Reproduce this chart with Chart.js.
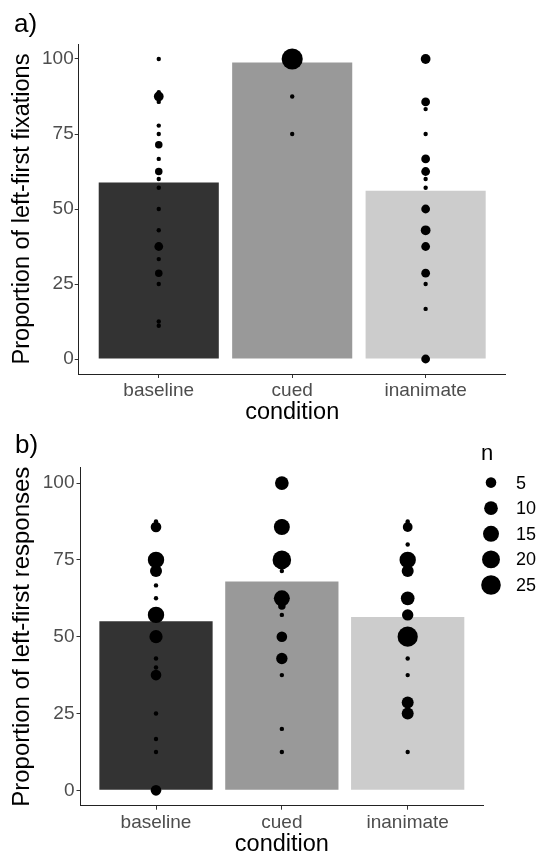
<!DOCTYPE html>
<html>
<head>
<meta charset="utf-8">
<script src="https://cdn.jsdelivr.net/npm/chart.js@4"></script>
<style>
  body { margin: 0; background: #fff; }
  canvas { display: block; }
</style>
</head>
<body>
<canvas id="fixChart" width="541" height="430"></canvas>
<canvas id="respChart" width="541" height="430"></canvas>
<script>
const categories = ['baseline', 'cued', 'inanimate']
const barColors = ['#333333', '#999999', '#cccccc']
const yTicks = [0, 25, 50, 75, 100]

// a) left-first fixations: bar = mean, dots = participant proportions (n = count)
const fixMeans = [58.8, 98.8, 56.1]
const fixBaselineProp = [100, 88.9, 87.5, 85.7, 77.8, 75, 71.4, 66.7, 62.5, 60, 57.1, 50, 42.9, 37.5, 33.3, 28.6, 25, 12.5, 11.1]
const fixBaselineN = [1, 1, 4, 1, 1, 1, 2, 1, 2, 1, 1, 1, 1, 3, 1, 2, 1, 1, 1]
const fixCuedProp = [100, 87.5, 75]
const fixCuedN = [30, 1, 1]
const fixInanimateProp = [100, 85.7, 83.3, 75, 66.7, 62.5, 60, 57.1, 50, 42.9, 37.5, 28.6, 25, 16.7, 0]
const fixInanimateN = [4, 3, 1, 1, 3, 3, 1, 1, 3, 4, 3, 3, 1, 1, 3]

// b) left-first responses
const respMeans = [55.0, 68.0, 56.4]
const respBaselineProp = [87.5, 85.7, 75, 71.4, 66.7, 62.5, 57.1, 50, 42.9, 40, 37.5, 25, 16.7, 12.5, 0]
const respBaselineN = [1, 5, 16, 7, 1, 1, 16, 9, 1, 1, 5, 1, 1, 1, 5]
const respCuedProp = [100, 87.5, 85.7, 75, 71.4, 62.5, 60, 57.1, 50, 42.9, 37.5, 20, 12.5]
const respCuedN = [10, 1, 15, 22, 1, 15, 2, 1, 5, 6, 1, 1, 1]
const respInanimateProp = [87.5, 85.7, 80, 75, 71.4, 62.5, 57.1, 50, 42.9, 37.5, 28.6, 25, 12.5]
const respInanimateN = [1, 4, 1, 16, 7, 10, 6, 27, 1, 1, 7, 7, 1]

const legendN = [5, 10, 15, 20, 25]

const FONT = "'Liberation Sans', Arial, sans-serif"

function dotRadius(n) {
  return 2.2 + 1.55 * Math.sqrt(n - 1)
}

function dots(props, ns, idx) {
  return props.map((p, i) => ({ x: idx, y: p, r: dotRadius(ns[i]) }))
}

// panel tag + size legend
const extras = {
  id: 'extras',
  afterDraw(chart, args, opts) {
    const ctx = chart.ctx
    ctx.save()
    ctx.fillStyle = '#000'
    ctx.textBaseline = 'alphabetic'
    ctx.font = '26px ' + FONT
    ctx.fillText(opts.tag, opts.tagX, opts.tagY)
    if (opts.legend) {
      ctx.font = '22px ' + FONT
      ctx.fillText('n', 481, 30)
      ctx.font = '18px ' + FONT
      ctx.textBaseline = 'middle'
      legendN.forEach((n, i) => {
        const y = 52.6 + i * 25.6
        ctx.beginPath()
        ctx.arc(491, y, dotRadius(n), 0, Math.PI * 2)
        ctx.fill()
        ctx.fillText(String(n), 516, y + 1)
      })
    }
    ctx.restore()
  },
}

function makePanel(id, means, dotData, yTitle, g) {
  return new Chart(document.getElementById(id), {
    type: 'bar',
    data: {
      datasets: [
        {
          type: 'bubble',
          data: dotData,
          backgroundColor: '#000',
          borderWidth: 0,
          clip: false,
          order: 1,
        },
        {
          data: means.map((m, i) => ({ x: i, y: m })),
          backgroundColor: barColors,
          borderWidth: 0,
          categoryPercentage: 1,
          barPercentage: 0.9,
          order: 2,
        },
      ],
    },
    options: {
      responsive: false,
      animation: false,
      events: [],
      layout: { padding: { top: g.top, right: g.right, bottom: 0, left: 0 } },
      plugins: {
        legend: { display: false },
        tooltip: { enabled: false },
        extras: g.extras,
      },
      scales: {
        x: {
          type: 'linear',
          min: -0.6,
          max: 2.6,
          offset: false,
          afterBuildTicks: (s) => {
            s.ticks = categories.map((c, i) => ({ value: i }))
          },
          afterFit: (s) => {
            s.height = g.xHeight
          },
          ticks: {
            callback: (v) => categories[v],
            color: '#4d4d4d',
            font: { family: FONT, size: 19 },
            padding: 1.3,
            autoSkip: false,
            maxRotation: 0,
          },
          grid: { drawOnChartArea: false, offset: false, tickLength: 4, tickColor: '#333' },
          border: { color: '#222', width: 1 },
          title: {
            display: true,
            text: 'condition',
            color: '#000',
            font: { family: FONT, size: 23.5 },
            padding: { top: 0, bottom: g.xTitlePad },
          },
        },
        y: {
          min: -5,
          max: 105,
          afterBuildTicks: (s) => {
            s.ticks = yTicks.map((v) => ({ value: v }))
          },
          afterFit: (s) => {
            s.width = g.yWidth
          },
          ticks: {
            color: '#4d4d4d',
            font: { family: FONT, size: 19 },
            padding: g.yTickPad,
          },
          grid: { drawOnChartArea: false, tickLength: 4, tickColor: '#333' },
          border: { color: '#222', width: 1 },
          title: {
            display: true,
            text: yTitle,
            color: '#000',
            font: { family: FONT, size: g.yTitleSize },
            padding: { top: 8.2, bottom: 0 },
          },
        },
      },
    },
    plugins: [extras],
  })
}

makePanel(
  'fixChart',
  fixMeans,
  [].concat(
    dots(fixBaselineProp, fixBaselineN, 0),
    dots(fixCuedProp, fixCuedN, 1),
    dots(fixInanimateProp, fixInanimateN, 2)
  ),
  'Proportion of left-first fixations',
  {
    top: 44,
    right: 35.3,
    yWidth: 78.7,
    xHeight: 56,
    xTitlePad: 3.3,
    yTickPad: 1,
    yTitleSize: 23.5,
    extras: { tag: 'a)', tagX: 14, tagY: 32, legend: false },
  }
)

makePanel(
  'respChart',
  respMeans,
  [].concat(
    dots(respBaselineProp, respBaselineN, 0),
    dots(respCuedProp, respCuedN, 1),
    dots(respInanimateProp, respInanimateN, 2)
  ),
  'Proportion of left-first responses',
  {
    top: 37.7,
    right: 57.8,
    yWidth: 80.5,
    xHeight: 54.3,
    xTitlePad: 1.3,
    yTickPad: 2,
    yTitleSize: 24,
    extras: { tag: 'b)', tagX: 15, tagY: 22.5, legend: true },
  }
)
</script>
</body>
</html>
